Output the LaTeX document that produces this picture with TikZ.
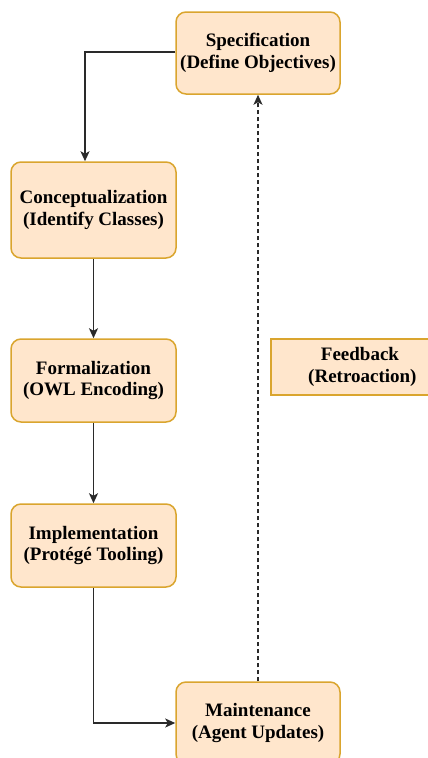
\documentclass[tikz,border=0pt]{standalone}
\usepackage{fontspec}
\setmainfont{Liberation Serif}
\usetikzlibrary{arrows.meta}
\definecolor{boxfill}{HTML}{FFE6CC}
\definecolor{boxdraw}{HTML}{DAA52E}
\definecolor{linecol}{HTML}{2A2A2A}
\begin{document}
\begin{tikzpicture}[x=1pt,y=-1pt,
  stage/.style={draw=boxdraw,fill=boxfill,line width=1.5pt,rounded corners=10pt,
    minimum width=#1,inner sep=0pt,align=center,
    font=\fontsize{19}{21.5}\selectfont\bfseries},
  flow/.style={draw=linecol,line width=1.5pt,-{Stealth[length=10pt,width=9pt,inset=2.5pt]}},
  fb/.style={draw=linecol,line width=1.3pt,dash pattern=on 4pt off 3pt,-{Stealth[length=10pt,width=9pt,inset=2.5pt]}}]
\useasboundingbox (0,0) rectangle (428,758);
\begin{scope}
\clip (0,0) rectangle (428,758);
% boxes
\node[stage=164pt,minimum height=82pt] (spec) at (258,53) {Specification\\(Define Objectives)};
\node[stage=165pt,minimum height=96pt] (conc) at (93.5,210) {Conceptualization\\(Identify Classes)};
\node[stage=165pt,minimum height=83pt] (form) at (93.5,380.5) {Formalization\\(OWL Encoding)};
\node[stage=165pt,minimum height=83pt] (impl) at (93.5,545.5) {Implementation\\(Protégé Tooling)};
\node[stage=164pt,minimum height=82pt] (maint) at (258,723) {Maintenance\\(Agent Updates)};
% feedback label
\path[draw=boxdraw,fill=boxfill,line width=1.5pt] (271,339) rectangle (470,395);
\node[inner sep=0pt,align=center,font=\fontsize{19}{21.5}\selectfont\bfseries] (fbk) at (360,367) {Feedback\\\ (Retroaction)};
% connectors
\coordinate (c1) at (85,52);
\draw[flow] (spec.west |- c1) -| (c1 |- conc.north);
\draw[flow] (conc.south) -- (form.north);
\draw[flow] (form.south) -- (impl.north);
\draw[flow] (impl.south) |- (maint.west);
\draw[fb] (maint.north) -- (spec.south);
\end{scope}
\end{tikzpicture}
\end{document}
